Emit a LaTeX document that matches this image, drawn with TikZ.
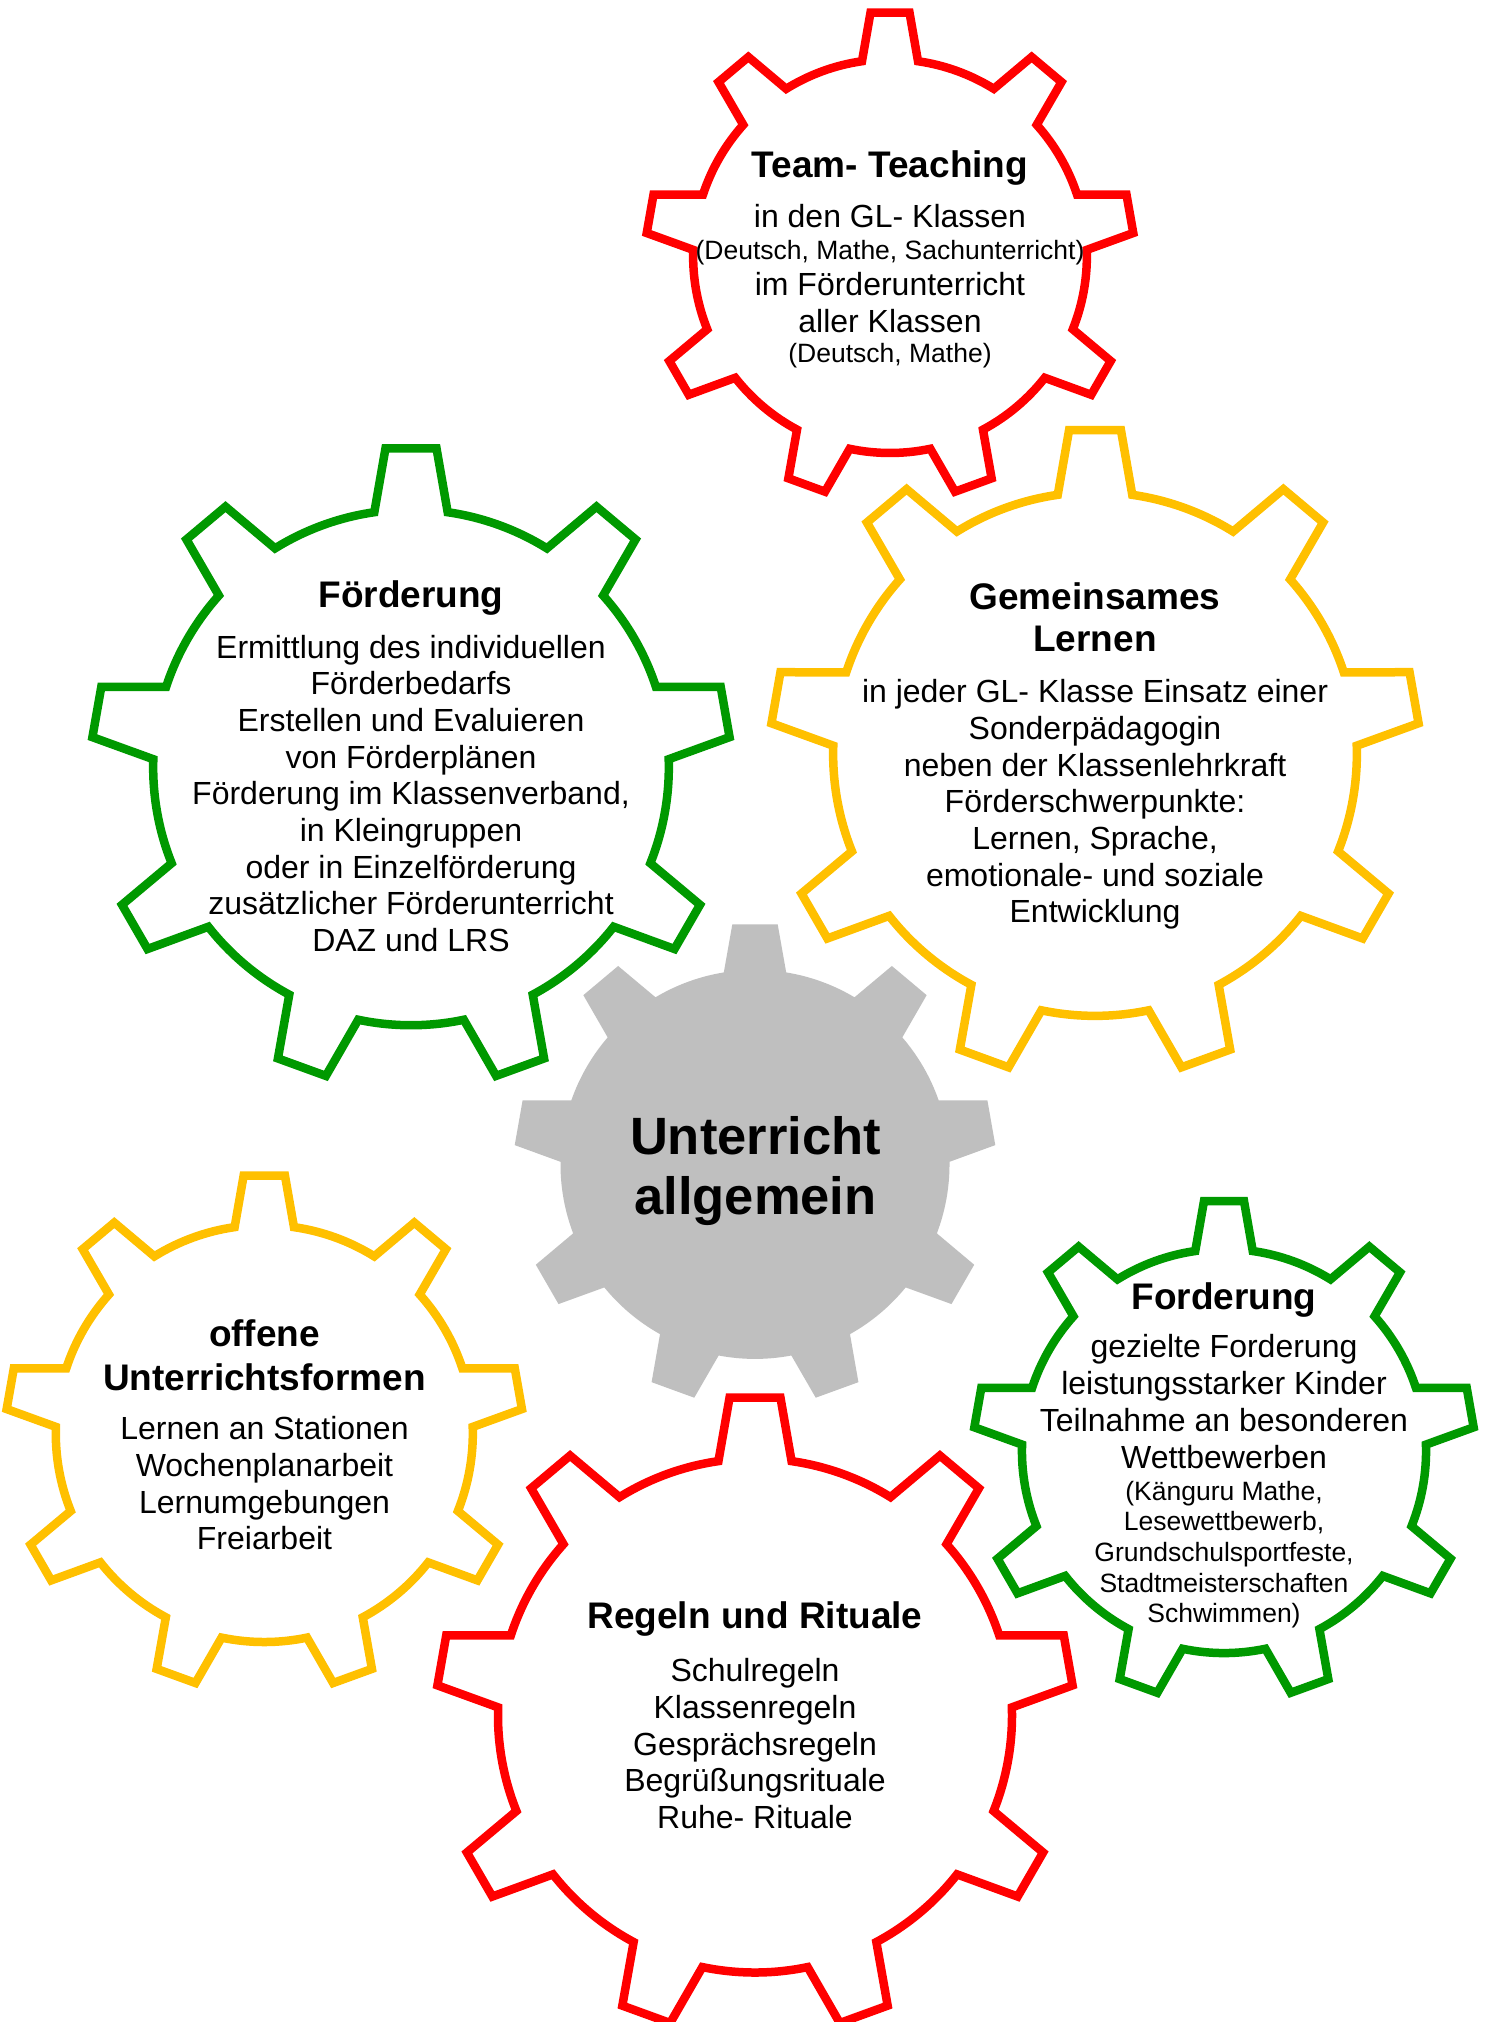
\documentclass[tikz,border=0pt]{standalone}
\usepackage{fontspec}
\setmainfont{Liberation Sans}
\definecolor{gred}{RGB}{255,0,0}
\definecolor{ggreen}{RGB}{0,153,0}
\definecolor{gyellow}{RGB}{255,192,0}
\definecolor{ggray}{RGB}{191,191,191}
\newcommand{\drawgear}[6]{%
  \pgfmathsetmacro{\grb}{#4*sqrt(0.64+#6*#6)}%
  \pgfmathsetmacro{\gbeta}{atan(#6/0.8)}%
  \pgfmathsetmacro{\grt}{#4*sqrt(1+#5*#5)}%
  \pgfmathsetmacro{\ggam}{atan(#5)}%
  \path[#1, shift={(#2,-#3)}] ({90+\gbeta}:\grb)
    \foreach \k in {0,...,8}{
      -- ({90-40*\k+\ggam}:\grt) -- ({90-40*\k-\ggam}:\grt) -- ({90-40*\k-\gbeta}:\grb)
      arc[start angle={90-40*\k-\gbeta}, end angle={50-40*\k+\gbeta}, radius=\grb]
    } -- cycle;
}
\tikzset{
  gearline/.style={line width=8.5pt, line join=miter, miter limit=10},
  ttl/.style={font=\bfseries\fontsize{37}{42.5}\selectfont, anchor=base, inner sep=0pt},
  bigttl/.style={font=\bfseries\fontsize{52.5}{60.4}\selectfont, anchor=base, inner sep=0pt},
  txt/.style={font=\fontsize{32}{36.8}\selectfont, anchor=base, inner sep=0pt},
  sml/.style={font=\fontsize{26.5}{30.5}\selectfont, anchor=base, inner sep=0pt}
}
\begin{document}
\begin{tikzpicture}[x=1pt,y=1pt]
\useasboundingbox (0,0) rectangle (1490,-2022);
\fill[white] (0,0) rectangle (1490,-2022);
% gears
\drawgear{draw=gred,gearline}{890}{256.1}{243.6}{0.08}{0.115}
\drawgear{draw=ggreen,gearline}{411}{767.4}{319}{0.08}{0.115}
\drawgear{draw=gyellow,gearline}{1095}{754}{324}{0.08}{0.115}
\drawgear{fill=ggray}{755}{1164.4}{240}{0.0946}{0.13}
\drawgear{draw=gyellow,gearline}{264.3}{1433.5}{258}{0.08}{0.115}
\drawgear{draw=ggreen,gearline}{1224}{1451}{250}{0.08}{0.115}
\drawgear{draw=gred,gearline}{755}{1715.5}{318}{0.08}{0.115}
% Team-Teaching
\node[ttl] (t0) at (890,-177.7) {Team- Teaching};
\node[txt] (t1) at (890,-227.7) {in den GL- Klassen};
\node[sml] (t2) at (890,-259.3) {(Deutsch, Mathe, Sachunterricht)};
\node[txt] (t3) at (890,-295) {im Förderunterricht};
\node[txt] (t4) at (890,-332.3) {aller Klassen};
\node[sml] (t5) at (890,-362.7) {(Deutsch, Mathe)};
% Foerderung
\node[ttl] (f0) at (411,-607.5) {Förderung};
\node[txt] (f1) at (411,-658) {Ermittlung des individuellen};
\node[txt] (f2) at (411,-694.7) {Förderbedarfs};
\node[txt] (f3) at (411,-731.4) {Erstellen und Evaluieren};
\node[txt] (f4) at (411,-768.1) {von Förderplänen};
\node[txt] (f5) at (411,-804.8) {Förderung im Klassenverband,};
\node[txt] (f6) at (411,-841.5) {in Kleingruppen};
\node[txt] (f7) at (411,-878.2) {oder in Einzelförderung};
\node[txt] (f8) at (411,-914.9) {zusätzlicher Förderunterricht};
\node[txt] (f9) at (411,-951.6) {DAZ und LRS};
% Gemeinsames Lernen
\node[ttl] (g0) at (1095,-609.4) {Gemeinsames};
\node[ttl] (g1) at (1095,-651.5) {Lernen};
\node[txt] (g2) at (1095,-702.7) {in jeder GL- Klasse Einsatz einer};
\node[txt] (g3) at (1095,-739.4) {Sonderpädagogin};
\node[txt] (g4) at (1095,-776.1) {neben der Klassenlehrkraft};
\node[txt] (g5) at (1095,-812.8) {Förderschwerpunkte:};
\node[txt] (g6) at (1095,-849.5) {Lernen, Sprache,};
\node[txt] (g7) at (1095,-886.2) {emotionale- und soziale};
\node[txt] (g8) at (1095,-922.9) {Entwicklung};
% Unterricht allgemein
\node[bigttl] (u0) at (755.5,-1154) {Unterricht};
\node[bigttl] (u1) at (755.5,-1214.3) {allgemein};
% offene Unterrichtsformen
\node[ttl] (o0) at (264.5,-1346) {offene};
\node[ttl] (o1) at (264.5,-1390) {Unterrichtsformen};
\node[txt] (o2) at (264.5,-1439.6) {Lernen an Stationen};
\node[txt] (o3) at (264.5,-1476.3) {Wochenplanarbeit};
\node[txt] (o4) at (264.5,-1513) {Lernumgebungen};
\node[txt] (o5) at (264.5,-1549.7) {Freiarbeit};
% Forderung
\node[ttl] (d0) at (1224,-1309) {Forderung};
\node[txt] (d1) at (1224,-1357.3) {gezielte Forderung};
\node[txt] (d2) at (1224,-1394.5) {leistungsstarker Kinder};
\node[txt] (d3) at (1224,-1431.5) {Teilnahme an besonderen};
\node[txt] (d4) at (1224,-1468.5) {Wettbewerben};
\node[sml] (d5) at (1224,-1500) {(Känguru Mathe,};
\node[sml] (d6) at (1224,-1530.7) {Lesewettbewerb,};
\node[sml] (d7) at (1224,-1561.4) {Grundschulsportfeste,};
\node[sml] (d8) at (1224,-1592) {Stadtmeisterschaften};
\node[sml] (d9) at (1224,-1622.5) {Schwimmen)};
% Regeln und Rituale
\node[ttl] (r0) at (755,-1628.3) {Regeln und Rituale};
\node[txt] (r1) at (755,-1681.7) {Schulregeln};
\node[txt] (r2) at (755,-1718.4) {Klassenregeln};
\node[txt] (r3) at (755,-1755.1) {Gesprächsregeln};
\node[txt] (r4) at (755,-1791.8) {Begrüßungsrituale};
\node[txt] (r5) at (755,-1828.5) {Ruhe- Rituale};
\end{tikzpicture}
\end{document}
